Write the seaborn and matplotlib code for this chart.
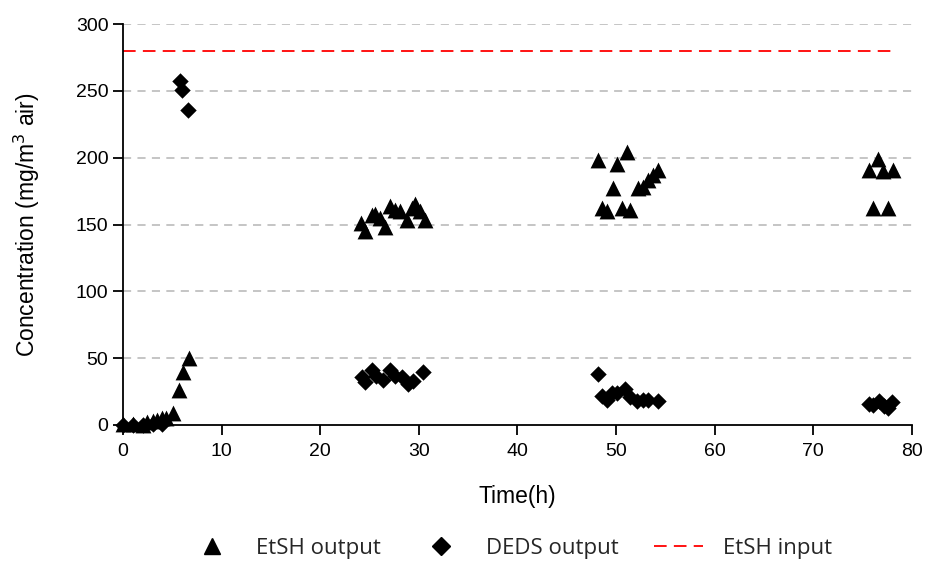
import numpy as np
import pandas as pd
import matplotlib
matplotlib.use("Agg")
import matplotlib.pyplot as plt
import seaborn as sns
from matplotlib.lines import Line2D

# EtSH output (triangles)
etsh_time = [0.0, 1.0, 2.0, 2.4, 3.0, 3.4, 4.0, 4.4, 5.1, 5.7, 6.1, 6.7,
             24.1, 24.5, 25.2, 25.6, 26.1, 26.6, 27.1, 27.6, 28.1, 28.8, 29.3, 29.6, 30.1, 30.6,
             48.2, 48.6, 49.1, 49.7, 50.1, 50.6, 51.1, 51.4, 52.2, 52.7, 53.2, 53.7, 54.2,
             75.6, 76.0, 76.6, 77.1, 77.6, 78.1]
etsh_conc = [1, 1, 0, 2, 3, 4, 5, 5, 9, 26, 40, 50,
             151, 145, 157, 158, 155, 148, 164, 161, 160, 153, 162, 165, 160, 153,
             198, 162, 160, 177, 195, 162, 204, 161, 177, 178, 183, 187, 191,
             191, 162, 199, 190, 162, 191]

# DEDS output (diamonds)
deds_time = [0.0, 1.0, 2.0, 3.0, 4.0, 5.8, 6.0, 6.6,
             24.2, 24.5, 25.2, 25.7, 26.4, 27.1, 27.6, 28.3, 28.9, 29.4, 30.4,
             48.2, 48.6, 49.1, 49.6, 50.1, 50.9, 51.4, 52.1, 52.7, 53.2, 54.2,
             75.6, 76.1, 76.7, 77.2, 77.6, 78.0]
deds_conc = [0, 0, 0, 1, 1, 257, 251, 236,
             36, 32, 41, 37, 34, 41, 37, 36, 31, 33, 40,
             38, 22, 19, 24, 24, 27, 21, 18, 19, 19, 18,
             16, 15, 18, 14, 13, 17]

# EtSH input concentration (constant feed)
input_time = [0, 78]
input_conc = [280, 280]

x_ticks = [0, 10, 20, 30, 40, 50, 60, 70, 80]
y_ticks = [0, 50, 100, 150, 200, 250, 300]

sns.set_style("white")
plt.rcParams['font.family'] = ['Liberation Sans', 'DejaVu Sans']

fig, ax = plt.subplots(figsize=(9.3, 5.64), dpi=100)
fig.subplots_adjust(left=0.1323, right=0.9806, top=0.9574, bottom=0.2465)

df_etsh = pd.DataFrame({"time": etsh_time, "conc": etsh_conc})
df_deds = pd.DataFrame({"time": deds_time, "conc": deds_conc})

for y in y_ticks[1:]:
    ax.axhline(y, color="#c0c0c0", lw=1.3, ls=(0, (4.5, 3.5)), zorder=0)

sns.lineplot(x=input_time, y=input_conc, ax=ax, color="#ff0000", lw=1.3,
             linestyle=(0, (7, 4)), zorder=1)
sns.scatterplot(data=df_etsh, x="time", y="conc", ax=ax, marker="^", s=130,
                color="black", edgecolor="black", linewidth=0, zorder=3, clip_on=False)
sns.scatterplot(data=df_deds, x="time", y="conc", ax=ax, marker="D", s=70,
                color="black", edgecolor="black", linewidth=0, zorder=3, clip_on=False)

ax.set_xlim(0, 80)
ax.set_ylim(0, 300)
ax.set_xticks(x_ticks)
ax.set_yticks(y_ticks)
ax.tick_params(axis="both", labelsize=14, length=7, width=1.3, direction="out",
               color="black", left=True, bottom=True, labelcolor="black")
ax.tick_params(axis="x", pad=6)
for side in ("top", "right"):
    ax.spines[side].set_visible(False)
for side in ("left", "bottom"):
    ax.spines[side].set_color("black")
    ax.spines[side].set_linewidth(1.3)

ax.set_xlabel("Time(h)", fontsize=16.5, labelpad=18, color="black")
ax.set_ylabel("Concentration (mg/m$^3$ air)", fontsize=16.5, labelpad=24, color="black")

handles = [
    Line2D([], [], marker="^", color="black", ls="none", markersize=12),
    Line2D([], [], marker="D", color="black", ls="none", markersize=9),
    Line2D([], [], color="#ff0000", lw=1.3, ls=(0, (7, 4))),
]
ax.legend(handles, ["EtSH output", "DEDS output", "EtSH input"], ncol=3,
          loc="upper center", bbox_to_anchor=(0.49, -0.232), frameon=False,
          handlelength=2.2, handletextpad=0.9, columnspacing=1.6,
          prop={"family": ["Open Sans", "DejaVu Sans"], "size": 16})

fig.savefig("out.png", dpi=100)
